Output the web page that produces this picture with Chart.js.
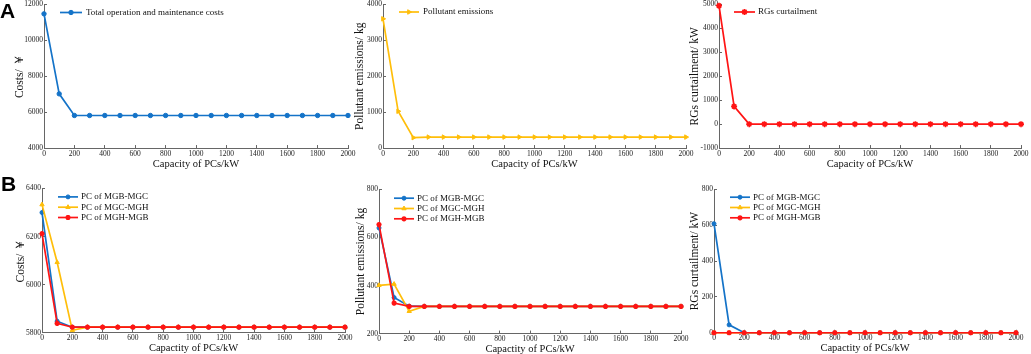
<!DOCTYPE html>
<html lang="en">
<head>
  <meta charset="UTF-8">
  <title>PC capacity results</title>
  <script src="https://cdn.jsdelivr.net/npm/chart.js"></script>
  <style>
    html, body {
      margin: 0;
      padding: 0;
      background: #ffffff;
      overflow: hidden;
    }
    #wrap {
      position: relative;
      width: 1031px;
      height: 354px;
    }
    canvas {
      position: absolute;
    }
    .tag {
      position: absolute;
      font-family: "Liberation Sans", Arial, sans-serif;
      font-weight: bold;
      font-size: 21px;
      line-height: 1;
      color: #000;
    }
  </style>
</head>
<body>
  <div id="wrap">
    <canvas id="a1"></canvas>
    <canvas id="a2"></canvas>
    <canvas id="a3"></canvas>
    <canvas id="b1"></canvas>
    <canvas id="b2"></canvas>
    <canvas id="b3"></canvas>
    <div class="tag" style="left:0px; top:0px;">A</div>
    <div class="tag" style="left:1px; top:173px;">B</div>
  </div>

  <script>
    // capacity of the power connectors, kW
    const capacity = [0, 100, 200, 300, 400, 500, 600, 700, 800, 900, 1000,
                      1100, 1200, 1300, 1400, 1500, 1600, 1700, 1800, 1900, 2000];

    // A: all PCs together
    const totalCost = [11480, 7020, 5815, 5815, 5815, 5815, 5815, 5815, 5815, 5815, 5815,
                       5815, 5815, 5815, 5815, 5815, 5815, 5815, 5815, 5815, 5815];
    const pollutant = [3600, 1025, 290, 305, 305, 305, 305, 305, 305, 305, 305,
                       305, 305, 305, 305, 305, 305, 305, 305, 305, 305];
    const curtailment = [4950, 740, 0, 0, 0, 0, 0, 0, 0, 0, 0,
                         0, 0, 0, 0, 0, 0, 0, 0, 0, 0];

    // B: one PC at a time
    const costMGBMGC = [6300, 5848, 5823, 5823, 5823, 5823, 5823, 5823, 5823, 5823, 5823,
                        5823, 5823, 5823, 5823, 5823, 5823, 5823, 5823, 5823, 5823];
    const costMGCMGH = [6333, 6093, 5810, 5823, 5823, 5823, 5823, 5823, 5823, 5823, 5823,
                        5823, 5823, 5823, 5823, 5823, 5823, 5823, 5823, 5823, 5823];
    const costMGHMGB = [6212, 5839, 5823, 5823, 5823, 5823, 5823, 5823, 5823, 5823, 5823,
                        5823, 5823, 5823, 5823, 5823, 5823, 5823, 5823, 5823, 5823];

    const emisMGBMGC = [640, 350, 314, 313, 313, 313, 313, 313, 313, 313, 313,
                        313, 313, 313, 313, 313, 313, 313, 313, 313, 313];
    const emisMGCMGH = [401, 406, 293, 313, 313, 313, 313, 313, 313, 313, 313,
                        313, 313, 313, 313, 313, 313, 313, 313, 313, 313];
    const emisMGHMGB = [654, 327, 313, 313, 313, 313, 313, 313, 313, 313, 313,
                        313, 313, 313, 313, 313, 313, 313, 313, 313, 313];

    const curtMGBMGC = [609, 44, 0, 0, 0, 0, 0, 0, 0, 0, 0,
                        0, 0, 0, 0, 0, 0, 0, 0, 0, 0];
    const curtMGCMGH = [0, 0, 0, 0, 0, 0, 0, 0, 0, 0, 0,
                        0, 0, 0, 0, 0, 0, 0, 0, 0, 0];
    const curtMGHMGB = [0, 0, 0, 0, 0, 0, 0, 0, 0, 0, 0,
                        0, 0, 0, 0, 0, 0, 0, 0, 0, 0];

    const BLUE = '#1473c8';
    const YELLOW = '#ffbe0a';
    const RED = '#ff1414';
    const SERIF = '"Liberation Serif", "Times New Roman", serif';

    const toPoints = (vals) => capacity.map((c, i) => ({ x: c, y: vals[i] }));

    // later series sit on top, like in the matlab figure
    const series = (label, vals, color, style, radius, rotation, order) => ({
      label: label,
      data: toPoints(vals),
      order: order || 0,
      borderColor: color,
      backgroundColor: color,
      pointBackgroundColor: color,
      pointBorderColor: color,
      borderWidth: 1.7,
      pointStyle: style,
      pointRadius: radius,
      pointRotation: rotation || 0,
      pointBorderWidth: style === 'star' ? 1.6 : 1,
      tension: 0,
      clip: false
    });

    // line + marker legend sitting inside the plot
    const lineLegend = {
      id: 'lineLegend',
      afterDatasetsDraw(chart, args, opts) {
        const { ctx, chartArea } = chart;
        ctx.save();
        ctx.font = '9px ' + SERIF;
        ctx.textBaseline = 'middle';
        ctx.textAlign = 'left';
        chart.data.datasets.forEach((ds, i) => {
          const x = chartArea.left + opts.x;
          const y = chartArea.top + opts.y + i * opts.step;
          ctx.strokeStyle = ds.borderColor;
          ctx.fillStyle = ds.backgroundColor;
          ctx.lineWidth = ds.borderWidth;
          ctx.beginPath();
          ctx.moveTo(x, y);
          ctx.lineTo(x + opts.len, y);
          ctx.stroke();
          ctx.lineWidth = ds.pointBorderWidth;
          if (Chart.helpers && Chart.helpers.drawPoint) {
            Chart.helpers.drawPoint(ctx, {
              pointStyle: ds.pointStyle,
              radius: ds.pointRadius,
              rotation: ds.pointRotation,
              borderWidth: ds.pointBorderWidth
            }, x + opts.len / 2, y);
          }
          ctx.fillStyle = '#111';
          ctx.fillText(ds.label, x + opts.len + opts.gap, y);
        });
        ctx.restore();
      }
    };

    const plainNumber = (v) => String(v);

    // p: plot rectangle in page pixels, titleX: centre of the y title
    function makePanel(id, p, yAxis, yTitle, xTitle, datasets, legend) {
      const titleHalf = 5.75;
      const padT = 8, padR = 16;
      const left = Math.round(p.titleX - titleHalf);
      const top = p.y0 - padT;
      const yW = p.x0 - left;
      const xH = p.xTitleY - p.y1 + 5.25;
      const cv = document.getElementById(id);
      cv.width = Math.ceil(p.x1 - left + padR);
      cv.height = Math.ceil(p.y1 + xH - top);
      cv.style.left = left + 'px';
      cv.style.top = top + 'px';

      new Chart(cv.getContext('2d'), {
        type: 'line',
        data: { datasets: datasets },
        plugins: [lineLegend],
        options: {
          responsive: false,
          animation: false,
          devicePixelRatio: 1,
          layout: { padding: { left: 0, top: padT, right: padR, bottom: 0 } },
          plugins: {
            legend: { display: false },
            tooltip: { enabled: false },
            lineLegend: legend
          },
          scales: {
            x: {
              type: 'linear',
              min: 0,
              max: 2000,
              afterFit: (s) => { s.height = xH; },
              ticks: {
                stepSize: 200,
                padding: p.xLabelGap - 4.5 + 3,
                maxRotation: 0,
                color: '#222',
                callback: plainNumber,
                font: { family: SERIF, size: 7.5, lineHeight: 1.2 }
              },
              grid: { drawOnChartArea: false, drawTicks: true, tickLength: -3, tickColor: '#666', lineWidth: 1 },
              border: { display: true, color: '#666', width: 1 },
              title: {
                display: true,
                text: xTitle,
                color: '#111',
                padding: 0,
                font: { family: SERIF, size: 10.5, lineHeight: 1 }
              }
            },
            y: {
              type: 'linear',
              min: yAxis.min,
              max: yAxis.max,
              afterFit: (s) => { s.width = yW; },
              ticks: {
                stepSize: yAxis.step,
                padding: 4,
                color: '#222',
                callback: plainNumber,
                font: { family: SERIF, size: 7.5, lineHeight: 1.2 }
              },
              grid: { drawOnChartArea: false, drawTicks: true, tickLength: -3, tickColor: '#666', lineWidth: 1 },
              border: { display: true, color: '#666', width: 1 },
              title: {
                display: true,
                text: yTitle,
                color: '#111',
                padding: 0,
                font: { family: SERIF, size: 11.5, lineHeight: 1 }
              }
            }
          }
        }
      });
    }

    makePanel('a1',
      { x0: 44, y0: 3.5, x1: 348, y1: 147, titleX: 20, xTitleY: 162.7, xLabelGap: 6 },
      { min: 4000, max: 12000, step: 2000 },
      'Costs/ ￥', 'Capacity of PCs/kW',
      [series('Total operation and maintenance costs', totalCost, BLUE, 'circle', 2.2)],
      { x: 16, y: 8, step: 10.3, len: 22, gap: 4 });

    makePanel('a2',
      { x0: 383, y0: 3.5, x1: 686, y1: 147, titleX: 360, xTitleY: 162.7, xLabelGap: 6 },
      { min: 0, max: 4000, step: 1000 },
      'Pollutant emissions/ kg', 'Capacity of PCs/kW',
      [series('Pollutant emissions', pollutant, YELLOW, 'triangle', 2.6, 90)],
      { x: 16, y: 7.5, step: 10.3, len: 20, gap: 4 });

    makePanel('a3',
      { x0: 719, y0: 3.5, x1: 1021, y1: 147, titleX: 695, xTitleY: 162.7, xLabelGap: 6 },
      { min: -1000, max: 5000, step: 1000 },
      'RGs curtailment/ kW', 'Capacity of PCs/kW',
      [series('RGs curtailment', curtailment, RED, 'star', 3)],
      { x: 15, y: 7.5, step: 10.3, len: 21, gap: 3 });

    makePanel('b1',
      { x0: 42, y0: 188.3, x1: 345, y1: 332.3, titleX: 21, xTitleY: 347.3, xLabelGap: 5.4 },
      { min: 5800, max: 6400, step: 200 },
      'Costs/ ￥', 'Capactity of PCs/kW',
      [series('PC of MGB-MGC', costMGBMGC, BLUE, 'circle', 2, 0, 3),
       series('PC of MGC-MGH', costMGCMGH, YELLOW, 'triangle', 2.5, 0, 2),
       series('PC of MGH-MGB', costMGHMGB, RED, 'star', 2.6, 0, 1)],
      { x: 16, y: 8.4, step: 10.3, len: 20, gap: 3 });

    makePanel('b2',
      { x0: 379, y0: 189, x1: 681, y1: 333.3, titleX: 361, xTitleY: 348.5, xLabelGap: 5.6 },
      { min: 200, max: 800, step: 200 },
      'Pollutant emissions/ kg', 'Capactity of PCs/kW',
      [series('PC of MGB-MGC', emisMGBMGC, BLUE, 'circle', 2, 0, 3),
       series('PC of MGC-MGH', emisMGCMGH, YELLOW, 'triangle', 2.5, 0, 2),
       series('PC of MGH-MGB', emisMGHMGB, RED, 'star', 2.6, 0, 1)],
      { x: 15, y: 8.7, step: 10.3, len: 20, gap: 3 });

    makePanel('b3',
      { x0: 714, y0: 189, x1: 1016, y1: 332.3, titleX: 695, xTitleY: 347.3, xLabelGap: 5.4 },
      { min: 0, max: 800, step: 200 },
      'RGs curtailment/ kW', 'Capactity of PCs/kW',
      [series('PC of MGB-MGC', curtMGBMGC, BLUE, 'circle', 2, 0, 3),
       series('PC of MGC-MGH', curtMGCMGH, YELLOW, 'triangle', 2.5, 0, 2),
       series('PC of MGH-MGB', curtMGHMGB, RED, 'star', 2.6, 0, 1)],
      { x: 16, y: 7.7, step: 10.3, len: 20, gap: 3 });
  </script>
</body>
</html>
